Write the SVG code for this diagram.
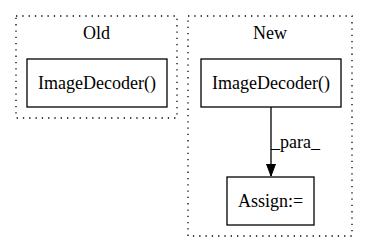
<svg xmlns="http://www.w3.org/2000/svg" width="368" height="252" viewBox="0 0 368 252">
  <style>
    .cluster { fill: none; stroke: #000; stroke-width: 1.3; stroke-dasharray: 1.3 5; }
    .node rect { fill: none; stroke: #000; stroke-width: 1.3; }
    .edge { stroke: #000; stroke-width: 1.3; fill: none; }
  </style>
  <defs>
    <marker id="arrow" markerWidth="12" markerHeight="16" refX="12" refY="6" orient="auto" markerUnits="userSpaceOnUse">
      <path d="M0,1.5 L12,6 L0,10.5 Z" fill="#000" stroke="#000"/>
    </marker>
  </defs>
  <rect width="368" height="252" fill="#fff"/>

  <g id="cluster_old">
    <rect class="cluster" x="16" y="16" width="161" height="102"/>
    <text x="96.5" y="39" text-anchor="middle" font-family="Liberation Serif" font-size="18">Old</text>
  </g>
  <g id="cluster_new">
    <rect class="cluster" x="188" y="16" width="164" height="220"/>
    <text x="270" y="39" text-anchor="middle" font-family="Liberation Serif" font-size="18">New</text>
  </g>

  <g id="old_imagedecoder" class="node">
    <rect x="27" y="59" width="140" height="48"/>
    <text x="97" y="89" text-anchor="middle" font-family="Liberation Serif" font-size="18">ImageDecoder()</text>
  </g>
  <g id="new_imagedecoder" class="node">
    <rect x="201" y="59" width="140" height="48"/>
    <text x="271" y="89" text-anchor="middle" font-family="Liberation Serif" font-size="18">ImageDecoder()</text>
  </g>
  <g id="assign" class="node">
    <rect x="227" y="177" width="87" height="48"/>
    <text x="270.5" y="207" text-anchor="middle" font-family="Liberation Serif" font-size="18">Assign:=</text>
  </g>

  <g id="connectors">
    <line class="edge" x1="271" y1="107" x2="271" y2="176" marker-end="url(#arrow)"/>
    <text x="271" y="148" font-family="Liberation Serif" font-size="18">_para_</text>
  </g>
</svg>
